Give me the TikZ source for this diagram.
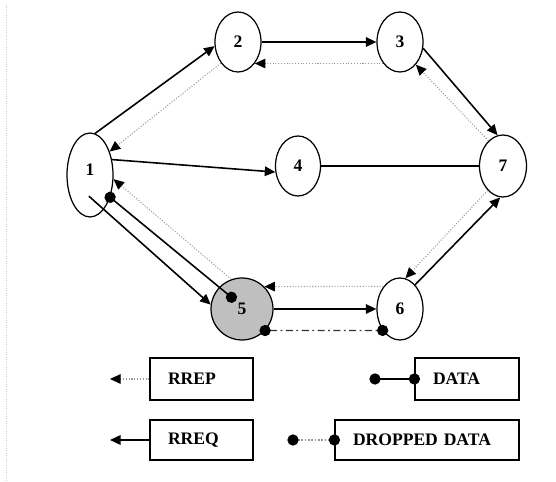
\documentclass[tikz,border=0pt]{standalone}
\usepackage{fontspec}
\setmainfont{Liberation Serif}
\usetikzlibrary{arrows.meta, shapes.geometric, calc}

\tikzset{
  station/.style={draw, ellipse, inner sep=0pt, line width=0.7pt, font=\bfseries},
  rreqlink/.style={->, line width=0.9pt},
  rreplink/.style={->, gray!80, densely dotted, line width=0.6pt},
  datalink/.style={{Circle[length=6.4pt,color=black]}-{Circle[length=6.4pt,color=black]},
    shorten <=-3.2pt, shorten >=-3.2pt, line width=0.9pt},
  droplink/.style={datalink, gray!80, densely dotted, line width=0.7pt},
  legbox/.style={draw, rectangle, line width=0.7pt, minimum height=0.84cm,
    inner xsep=0.36cm, align=left, font=\bfseries},
}

\begin{document}
\begin{tikzpicture}[x=0.02cm, y=-0.02cm, >={Triangle[length=6pt,width=5.4pt,color=black]}]
    \useasboundingbox (0,0) rectangle (556,482);
    \draw[gray!40, densely dotted] (6,5) -- (6,482);

    % stations
    \node[station, minimum width=0.92cm, minimum height=1.68cm] (n1) at (90,175) {\raisebox{0.2cm}{1}};
    \node[station, minimum width=0.92cm, minimum height=1.2cm] (n2) at (238,42) {2};
    \node[station, minimum width=0.92cm, minimum height=1.2cm] (n3) at (400,42) {3};
    \node[station, minimum width=0.9cm, minimum height=1.2cm] (n4) at (298,166) {4};
    \node[station, minimum width=0.94cm, minimum height=1.24cm] (n7) at (503,166) {7};
    \node[station, circle, fill=gray!50, minimum size=1.24cm] (n5) at (242,309) {5};
    \node[station, minimum width=0.92cm, minimum height=1.24cm] (n6) at (400,309) {6};

    % links
    \draw[rreqlink] (n1.83) -- (n2.190);
    \draw[rreplink] (n2.231) -- (n1.50);
    \draw[rreqlink] (n2.east) -- (n3.west);
    \draw[rreplink] (n3.232) -- (n2.308);
    \draw[rreqlink] (n3.345) -- (n7.100);
    \draw[rreplink] (n7.120) -- (n3.305);
    \draw[rreqlink] (n1.35) -- (n4.195);
    \draw[line width=0.9pt] (n4.east) -- (n7.west);
    \draw[rreplink] (n7.238) -- (n6.80);
    \draw[rreqlink] (n6.58) -- (n7.265);
    \draw[rreplink] (n6.126) -- (n5.45);
    \draw[rreqlink] (n5.east) -- (n6.west);
    \draw[droplink, black!80, solid, dash pattern=on 4pt off 2pt on 1pt off 2pt] (n5.317) -- (n6.231);
    \draw[rreqlink] ($(n1.center)!0.5!(n1.267)$) -- (n5.172);
    \draw[datalink] (n1.312) -- ($(n5.center)!0.5!(n5.132)$);
    \draw[rreplink] (n5.110) -- (n1.350);

    % legend
    \node[legbox, text width=1.34cm] (lrrep) at (201.5,379) {RREP};
    \node[legbox, text width=1.36cm] (ldata) at (467,379) {DATA};
    \node[legbox, text width=1.34cm, minimum height=0.8cm] (lrreq) at (201.5,440) {RREQ};
    \node[legbox, text width=2.96cm, minimum height=0.8cm] (ldrop) at (427,440) {DROPPED DATA};
    \coordinate (erep) at (110,379);
    \coordinate (ereq) at (110,440);
    \coordinate (edata) at (375,379);
    \coordinate (edrop) at (293,440);
    \draw[rreplink] (lrrep.west) -- (erep);
    \draw[rreqlink] (lrreq.west) -- (ereq);
    \draw[datalink] (edata) -- (ldata.west);
    \draw[droplink] (edrop) -- (ldrop.west);
\end{tikzpicture}
\end{document}
